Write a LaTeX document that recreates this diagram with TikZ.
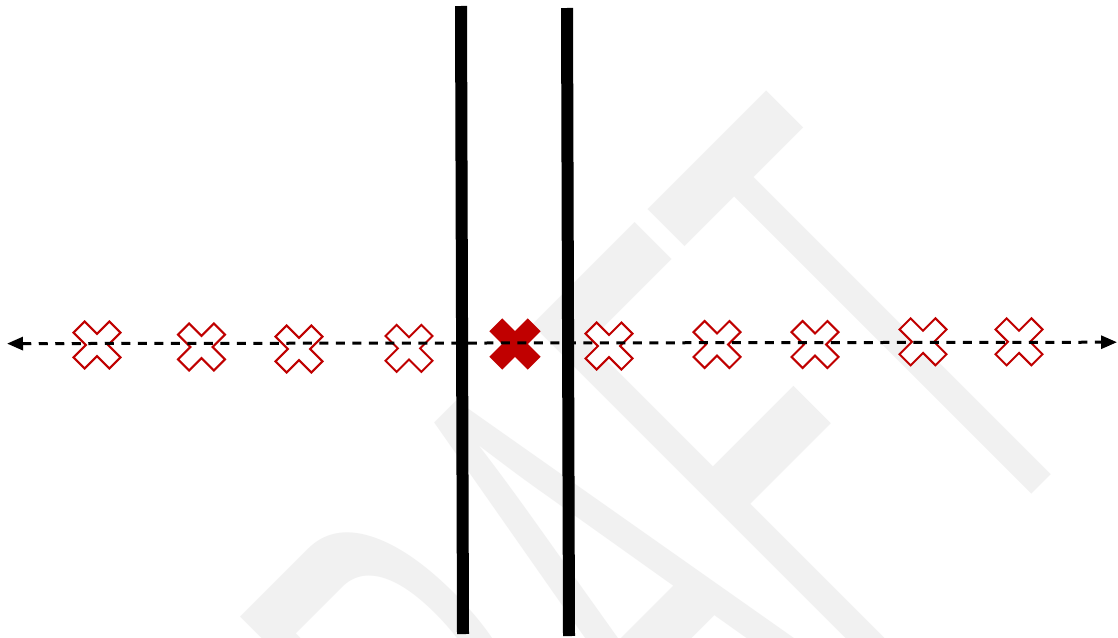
\documentclass[tikz,border=0pt]{standalone}
\usepackage{fontspec}
\newfontfamily\wmfont{Liberation Sans}
\usetikzlibrary{arrows.meta}
\definecolor{wmgray}{RGB}{241,241,241}
\definecolor{xred}{RGB}{192,0,0}
\tikzset{
  wm/.style={text=wmgray, inner sep=0pt, anchor=base west, rotate=45, xscale=0.432,
    font=\wmfont\fontsize{687pt}{687pt}\selectfont},
  barline/.style={line width=12pt, draw=black},
  axisline/.style={dash pattern=on 9pt off 7.5pt, line width=3pt,
    {Triangle[length=16pt,width=13pt]}-{Triangle[length=16pt,width=13pt]}},
  xopen/.style={draw=xred, fill=white, line width=2pt},
  xfull/.style={draw=xred, fill=xred, line width=2pt},
  pics/xmark/.style={code={
    \path[pic actions] (0,-11.1)--(12.4,-23.5)--(23.5,-12.4)--(11.1,0)--(23.5,12.4)--(12.4,23.5)
      --(0,11.1)--(-12.4,23.5)--(-23.5,12.4)--(-11.1,0)--(-23.5,-12.4)--(-12.4,-23.5)--cycle;}}
}
\begin{document}
\begin{tikzpicture}[x=1pt,y=-1pt]
\useasboundingbox (0,0) rectangle (1118,637);
\fill[white] (0,0) rectangle (1118,637);
\begin{scope}
  \clip (0,0) rectangle (1118,637);
  \node[wm] (draft) at (406,1120) {DRAFT};
\end{scope}
% vertical bars
\coordinate (b1t) at (461,6);
\coordinate (b1b) at (463,634);
\coordinate (b2t) at (567,8);
\coordinate (b2b) at (569,636);
\draw[barline] (b1t) -- (b1b);
\draw[barline] (b2t) -- (b2b);
% crosses
\pic[xopen] (x1) at (97,345) {xmark};
\pic[xopen] (x2) at (201.5,347) {xmark};
\pic[xopen] (x3) at (299,349) {xmark};
\pic[xopen] (x4) at (409,348.4) {xmark};
\pic[xfull, scale=1.03] (x5) at (515,344) {xmark};
\pic[xopen] (x6) at (609,346) {xmark};
\pic[xopen] (x7) at (717,344.5) {xmark};
\pic[xopen] (x8) at (815,344.5) {xmark};
\pic[xopen] (x9) at (923,341.8) {xmark};
\pic[xopen] (x10) at (1019,341.8) {xmark};
% axis
\coordinate (al) at (7,343.6);
\coordinate (ar) at (1117,342.2);
\draw[axisline] (al) -- (ar);
\end{tikzpicture}
\end{document}
